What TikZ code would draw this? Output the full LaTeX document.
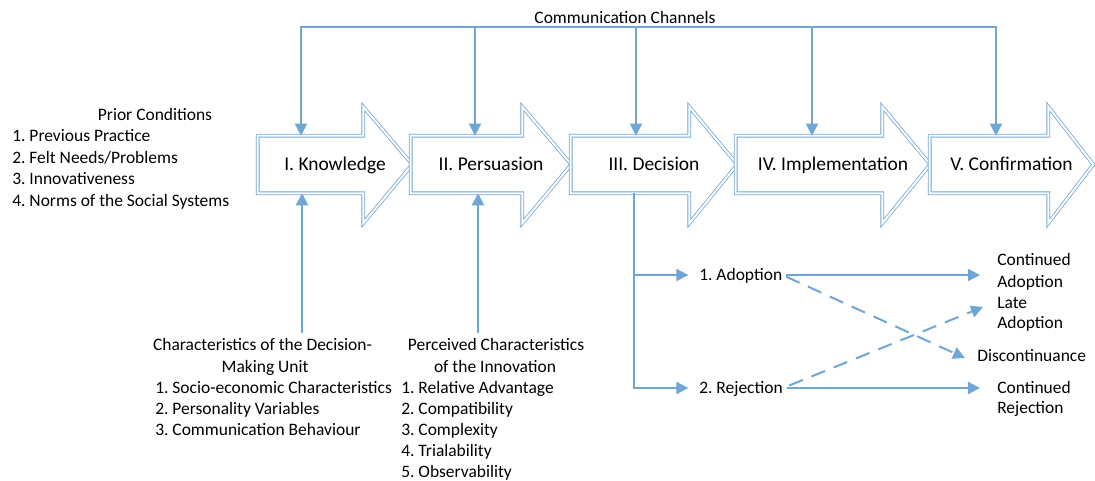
\documentclass[tikz,border=0pt]{standalone}
\usepackage{fontspec}
\setmainfont{Carlito}
\usetikzlibrary{arrows.meta,calc}
\definecolor{flow}{RGB}{112,166,214}
\frenchspacing

% one stage of the process: a block arrow with a double outline
% #1 name, #2 left x, #3 tip x, #4 label, #5 head length
\newcommand\stagearrow[5]{%
  \node[stagebox, minimum width={(#3-#2)*0.75pt}] (#1) at ({(#2+#3)/2},164.5) {};
  \draw[stageline] (#1.north west) -- ($(#1.north east)+(-#5,0)$)
    -- ($(#1.north east)+(-#5,-29)$) -- (#1.east)
    -- ($(#1.south east)+(-#5,30)$) -- ($(#1.south east)+(-#5,0)$)
    -- (#1.south west) -- cycle;
  \node[stagelabel] (#1-label) at (#1.center) {#4};
}

\begin{document}
\begin{tikzpicture}[x=0.75pt,y=-0.75pt,
  stagebox/.style={inner sep=0pt, minimum height=42.75pt},
  stageline/.style={draw=flow, line width=0.6pt, double=white, double distance=1.5pt, fill=white, line join=miter},
  stagelabel/.style={font=\fontsize{14.6pt}{17pt}\selectfont, inner sep=0pt, text height=9.35pt, text depth=0pt},
  txt/.style={font=\fontsize{13.1pt}{16pt}\selectfont, inner sep=0pt, text height=8.4pt, text depth=0pt},
  conn/.style={draw=flow, line width=1.5pt},
  tip/.style={-{Triangle[width=9pt,length=9pt]}},
  bothtips/.style={{Triangle[width=9pt,length=9pt]}-{Triangle[width=9pt,length=9pt]}},
  dashline/.style={dash pattern=on 11pt off 7pt}
]
\useasboundingbox (0,0) rectangle (1095,481);

% the five stages
\stagearrow{K}{258}{412}{I. Knowledge}{49}
\stagearrow{P}{411}{571}{II. Persuasion}{49}
\stagearrow{D}{571}{737}{III. Decision}{48}
\stagearrow{I}{736}{930}{IV. Implementation}{48}
\stagearrow{C}{930}{1093}{V. Confirmation}{45}

% communication channels feeding every stage
\node[txt] (cc) at (625,18) {Communication Channels};
\foreach \n/\x in {1/301,2/475,3/636,4/812,5/996}
  \coordinate (ch\n) at (\x,27);
\draw[conn,bothtips] (ch1 |- K.north) -- (ch1) -- (ch5) -- (ch5 |- C.north);
\draw[conn,tip] (ch2) -- (ch2 |- P.north);
\draw[conn,tip] (ch3) -- (ch3 |- D.north);
\draw[conn,tip] (ch4) -- (ch4 |- I.north);

% prior conditions
\node[txt] (pc) at (155,115) {Prior Conditions};
\foreach \t [count=\i] in {1. Previous Practice, 2. Felt Needs/Problems,
    3. Innovativeness, 4. Norms of the Social Systems}
  \node[txt,anchor=west] (pc\i) at (12,{114.5+21.5*\i}) {\t};

% characteristics of the decision-making unit
\node[txt] (dmu1) at (262.5,345) {Characteristics of the Decision-};
\node[txt] (dmu2) at (265,367) {Making Unit};
\foreach \t [count=\i] in {1. Socio-economic Characteristics,
    2. Personality Variables, 3. Communication Behaviour}
  \node[txt,anchor=west] (dmu-\i) at (155,{367+21*\i}) {\t};
\coordinate (u1) at (302,333);
\draw[conn,tip] (u1) -- (u1 |- K.south);

% perceived characteristics of the innovation
\node[txt] (pci1) at (496,345) {Perceived Characteristics};
\node[txt] (pci2) at (495,367) {of the Innovation};
\foreach \t [count=\i] in {1. Relative Advantage, 2. Compatibility,
    3. Complexity, 4. Trialability, 5. Observability}
  \node[txt,anchor=west] (pci-\i) at (401,{367+21*\i}) {\t};
\coordinate (u2) at (478,333);
\draw[conn,tip] (u2) -- (u2 |- P.south);

% decision branches
\node[txt,anchor=west] (adop) at (699,275) {1. Adoption};
\node[txt,anchor=west] (rej) at (699,388) {2. Rejection};
\coordinate (dx) at (634,388);
\draw[conn,tip,shorten >=8pt] (dx |- D.south) -- (dx) -- (rej.west);
\draw[conn,tip,shorten >=8pt] (dx |- adop.west) -- (adop.west);

% outcomes
\node[txt,anchor=west] (ca1) at (997,260) {Continued};
\node[txt,anchor=west] (ca2) at (997,282) {Adoption};
\node[txt,anchor=west] (la1) at (997,303) {Late};
\node[txt,anchor=west] (la2) at (997,323) {Adoption};
\node[txt,anchor=west] (disc) at (977,356) {Discontinuance};
\node[txt,anchor=west] (cr1) at (997,388) {Continued};
\node[txt,anchor=west] (cr2) at (997,408) {Rejection};

\draw[conn,tip,shorten <=3pt] (adop.east) -- ($(adop.east -| ca1.west)+(-17,0)$);
\draw[conn,tip,shorten <=3pt] (rej.east) -- ($(rej.east -| cr1.west)+(-17,0)$);
\draw[conn,tip,dashline,shorten <=3pt] (adop.east) -- ($(disc.west)+(-12,2)$);
\draw[conn,tip,dashline,shorten <=5pt] (rej.east) -- ($(la1.west)+(-14,4)$);
\end{tikzpicture}
\end{document}
